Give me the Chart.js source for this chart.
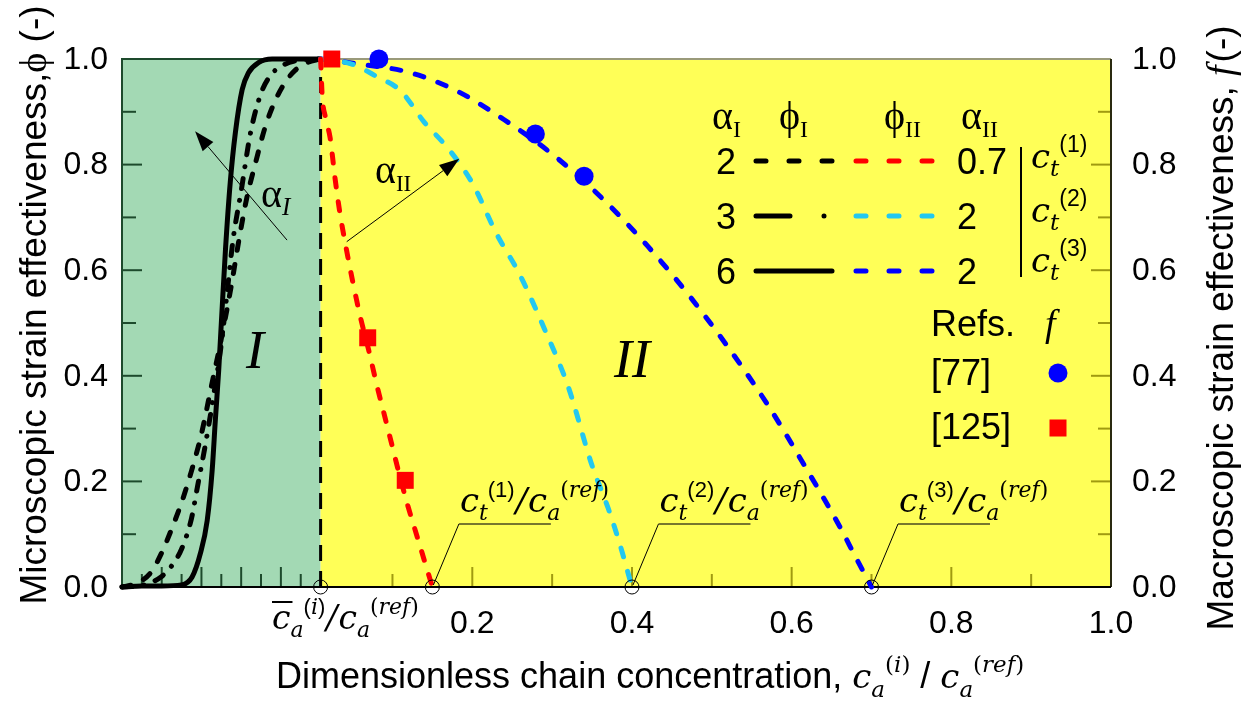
<!DOCTYPE html>
<html>
<head>
<meta charset="utf-8">
<title>Strain effectiveness vs. dimensionless chain concentration</title>
<script src="https://cdn.jsdelivr.net/npm/chart.js@4.4.1/dist/chart.umd.min.js"></script>
<style>
  html, body { margin: 0; padding: 0; background: #ffffff; }
  canvas { display: block; }
</style>
</head>
<body>
<canvas id="chart" width="1247" height="701"></canvas>
<script>
// Boundary between region I and region II: c̄a(i)/ca(ref)
const cBar = 0.01;
// Threshold concentrations ct(k)/ca(ref)
const ctValues = [0.15, 0.4, 0.7];

// Axis ticks
const xTickLabels = [0.2, 0.4, 0.6, 0.8, 1.0];
const xTickMarks = [0.1, 0.2, 0.3, 0.4, 0.5, 0.6, 0.7, 0.8, 0.9];
const uTickMarks = [0.1, 0.2, 0.3, 0.4, 0.5, 0.6, 0.7, 0.8, 0.9];   // region I, fraction of c̄a
const yTickLabels = [0.0, 0.2, 0.4, 0.6, 0.8, 1.0];
const yTickMarks = [0.1, 0.2, 0.3, 0.4, 0.5, 0.6, 0.7, 0.8, 0.9];

// Region I: microscopic effectiveness phi_I vs. ca/c̄a
const phiI_a2_u   = [0, 0.05, 0.10, 0.15, 0.20, 0.25, 0.30, 0.35, 0.40, 0.45, 0.50, 0.55, 0.59, 0.63, 0.67, 0.72, 0.77, 0.82, 0.87, 0.93, 1.00];
const phiI_a2_phi = [0, 0.004, 0.012, 0.03, 0.065, 0.11, 0.16, 0.22, 0.29, 0.38, 0.47, 0.57, 0.66, 0.74, 0.80, 0.87, 0.92, 0.955, 0.978, 0.993, 1.0];
const phiI_a3_u   = [0, 0.10, 0.20, 0.25, 0.30, 0.35, 0.38, 0.42, 0.46, 0.50, 0.53, 0.56, 0.60, 0.647, 0.70, 0.75, 0.82, 0.90, 1.00];
const phiI_a3_phi = [0, 0.003, 0.02, 0.04, 0.072, 0.13, 0.19, 0.27, 0.36, 0.46, 0.56, 0.66, 0.75, 0.86, 0.935, 0.97, 0.99, 0.998, 1.0];
const phiI_a6_u   = [0, 0.10, 0.20, 0.30, 0.353, 0.395, 0.429, 0.454, 0.470, 0.487, 0.501, 0.521, 0.545, 0.571, 0.605, 0.637, 0.687, 0.756, 0.85, 1.00];
const phiI_a6_phi = [0, 0.002, 0.002, 0.004, 0.019, 0.064, 0.126, 0.221, 0.316, 0.411, 0.506, 0.639, 0.766, 0.861, 0.942, 0.974, 0.993, 1.0, 1.0, 1.0];

// Region II: microscopic effectiveness phi_II vs. ca/ca(ref)
const phiII_ct1_x   = [0.01, 0.012, 0.016, 0.022, 0.028, 0.034, 0.041, 0.05, 0.06, 0.07, 0.08, 0.09, 0.10, 0.11, 0.12, 0.13, 0.14, 0.15];
const phiII_ct1_phi = [1.0, 0.93, 0.89, 0.85, 0.775, 0.71, 0.65, 0.58, 0.51, 0.45, 0.385, 0.325, 0.265, 0.205, 0.15, 0.10, 0.05, 0.0];
const phiII_ct2_x   = [0.01, 0.05, 0.08, 0.11, 0.14, 0.17, 0.20, 0.23, 0.26, 0.29, 0.32, 0.35, 0.37, 0.385, 0.40];
const phiII_ct2_phi = [1.0, 0.99, 0.967, 0.94, 0.88, 0.83, 0.765, 0.67, 0.59, 0.49, 0.38, 0.23, 0.15, 0.08, 0.0];
const phiII_ct3_x   = [0.01, 0.06, 0.12, 0.18, 0.24, 0.30, 0.36, 0.42, 0.47, 0.52, 0.57, 0.62, 0.66, 0.68, 0.70];
const phiII_ct3_phi = [1.0, 0.99, 0.975, 0.94, 0.885, 0.82, 0.74, 0.645, 0.555, 0.455, 0.345, 0.22, 0.115, 0.057, 0.0];

// Macroscopic effectiveness f from the literature
const ref77_x  = [0.083, 0.279, 0.340];
const ref77_f  = [1.0, 0.858, 0.778];
const ref125_x = [0.024, 0.069, 0.116];
const ref125_f = [1.0, 0.472, 0.202];

// ---------------------------------------------------------------------------
const pts = (xs, ys) => xs.map((x, i) => ({ x, y: ys[i] }));

const GREEN = '#a3d9b4';
const YELLOW = '#ffff57';
const CYAN = '#22c8f0';
const TICK_GREEN = '#1d4a2c';
const TICK_OLIVE = '#a09a10';

const SANS = '"Liberation Sans", Arial, sans-serif';
const sans = s => `${s}px ${SANS}`;
const MI = s => `italic ${s}px "DejaVu Serif", serif`;
const MR = s => `${s}px "DejaVu Serif", serif`;
const TI = s => `italic ${s}px "Liberation Serif", "Times New Roman", serif`;
const TR = s => `${s}px "Liberation Serif", "Times New Roman", serif`;

// Frame: region-II scale spans from xMin at the left edge to 1.0 at the right edge
const frameLeft = 122, frameRight = 1111, frameTop = 59, frameBottom = 587;
const tick02px = 472.3;
const xMin = 0.2 - (tick02px - frameLeft) / ((frameRight - tick02px) / 0.8);
// Region-I scale (ca/c̄a) shares the frame, with 1 at the boundary
const uMax = (1 - xMin) / (cBar - xMin);

function drawRich(ctx, x, y, parts, align) {
  let w = 0;
  for (const p of parts) { ctx.font = p.f; w += ctx.measureText(p.t).width + (p.dx || 0); }
  let cx = align === 'center' ? x - w / 2 : align === 'right' ? x - w : x;
  ctx.textAlign = 'left';
  ctx.textBaseline = 'alphabetic';
  for (const p of parts) {
    ctx.font = p.f;
    const tw = ctx.measureText(p.t).width;
    ctx.fillText(p.t, cx, y + (p.dy || 0));
    if (p.over) {
      ctx.save();
      ctx.lineWidth = 2;
      ctx.beginPath();
      ctx.moveTo(cx, y + p.over);
      ctx.lineTo(cx + tw + 2, y + p.over);
      ctx.stroke();
      ctx.restore();
    }
    cx += tw + (p.dx || 0);
  }
}

function ratioLabel(num, numSub, numSup, size, sub) {
  const parts = [
    { t: 'c', f: MI(size) },
    { t: numSub, f: MI(sub), dy: 8 },
    { t: '(', f: sans(sub), dy: -15 },
    { t: numSup, f: numSup === 'i' ? MI(sub) : sans(sub), dy: -15 },
    { t: ')', f: sans(sub), dy: -15, dx: 1 },
    { t: '/', f: MI(size), dx: 1 },
    { t: 'c', f: MI(size) },
    { t: 'a', f: MI(sub), dy: 8 },
    { t: '(', f: MR(sub), dy: -15 },
    { t: 'ref', f: MI(sub), dy: -15 },
    { t: ')', f: MR(sub), dy: -15 }
  ];
  if (num) parts[0].over = -27;
  return parts;
}

function arrow(ctx, x0, y0, x1, y1) {
  const len = 20, half = 7;
  const a = Math.atan2(y1 - y0, x1 - x0);
  const bx = x1 - len * Math.cos(a), by = y1 - len * Math.sin(a);
  ctx.beginPath(); ctx.moveTo(x0, y0); ctx.lineTo(bx, by); ctx.stroke();
  ctx.beginPath();
  ctx.moveTo(x1, y1);
  ctx.lineTo(bx + half * Math.sin(a), by - half * Math.cos(a));
  ctx.lineTo(bx - half * Math.sin(a), by + half * Math.cos(a));
  ctx.closePath(); ctx.fill();
}

function legendLine(ctx, x0, x1, y, color, dash) {
  ctx.save();
  ctx.strokeStyle = color;
  ctx.lineWidth = 5;
  ctx.lineCap = 'round';
  ctx.setLineDash(dash);
  ctx.beginPath(); ctx.moveTo(x0, y); ctx.lineTo(x1, y); ctx.stroke();
  ctx.restore();
}

const decorations = {
  id: 'decorations',
  beforeDatasetsDraw(chart) {
    const { ctx, chartArea: a, scales } = chart;
    const X = v => scales.x.getPixelForValue(v);
    const U = v => scales.xI.getPixelForValue(v);
    const Y = v => scales.y.getPixelForValue(v);
    const xb = X(cBar);
    ctx.save();
    // regions
    ctx.fillStyle = GREEN; ctx.fillRect(a.left, a.top, xb - a.left, a.bottom - a.top);
    ctx.fillStyle = YELLOW; ctx.fillRect(xb, a.top, a.right - xb, a.bottom - a.top);

    // inward tick marks
    ctx.lineWidth = 2;
    const major = v => Math.round(v * 10) % 2 === 0;
    ctx.strokeStyle = TICK_GREEN;
    for (const v of yTickMarks) {
      const l = major(v) ? 20 : 14, y = Y(v);
      ctx.beginPath(); ctx.moveTo(a.left, y); ctx.lineTo(a.left + l, y); ctx.stroke();
    }
    for (const v of uTickMarks) {
      const l = major(v) ? 20 : 13, x = U(v);
      ctx.beginPath(); ctx.moveTo(x, a.bottom); ctx.lineTo(x, a.bottom - l); ctx.stroke();
    }
    ctx.strokeStyle = TICK_OLIVE;
    for (const v of xTickMarks) {
      const l = major(v) ? 20 : 13, x = X(v);
      ctx.beginPath(); ctx.moveTo(x, a.bottom); ctx.lineTo(x, a.bottom - l); ctx.stroke();
    }
    for (const v of yTickMarks) {
      const l = major(v) ? 20 : 13, y = Y(v);
      ctx.beginPath(); ctx.moveTo(a.right, y); ctx.lineTo(a.right - l, y); ctx.stroke();
    }

    // frame
    ctx.lineWidth = 2;
    ctx.strokeStyle = TICK_GREEN;
    ctx.beginPath(); ctx.moveTo(a.left, a.bottom); ctx.lineTo(a.left, a.top); ctx.lineTo(xb, a.top); ctx.stroke();
    ctx.strokeStyle = '#9a9a7a';
    ctx.beginPath(); ctx.moveTo(xb, a.top); ctx.lineTo(a.right, a.top); ctx.stroke();
    ctx.strokeStyle = '#2a2a10';
    ctx.beginPath(); ctx.moveTo(a.right, a.top); ctx.lineTo(a.right, a.bottom); ctx.stroke();
    ctx.strokeStyle = '#000';
    ctx.beginPath(); ctx.moveTo(a.left, a.bottom); ctx.lineTo(a.right, a.bottom); ctx.stroke();
    ctx.restore();
  },
  afterDatasetsDraw(chart) {
    const { ctx, chartArea: a, scales } = chart;
    const X = v => scales.x.getPixelForValue(v);
    const U = v => scales.xI.getPixelForValue(v);
    const Y = v => scales.y.getPixelForValue(v);
    ctx.save();
    ctx.fillStyle = '#000';
    ctx.strokeStyle = '#000';

    // tick labels
    ctx.font = sans(32);
    ctx.textBaseline = 'middle';
    ctx.textAlign = 'right';
    for (const v of yTickLabels) ctx.fillText(v.toFixed(1), 108, Y(v) + 1);
    ctx.textAlign = 'left';
    for (const v of yTickLabels) ctx.fillText(v.toFixed(1), 1132, Y(v) + 1);
    ctx.textAlign = 'center';
    ctx.textBaseline = 'alphabetic';
    for (const v of xTickLabels) ctx.fillText(v.toFixed(1), X(v), 633);
    drawRich(ctx, 272, 629, ratioLabel(true, 'a', 'i', 33, 22));

    // axis titles
    drawRich(ctx, 276, 688, [
      { t: 'Dimensionless chain concentration, ', f: sans(36) },
      { t: 'c', f: MI(34) },
      { t: 'a', f: MI(23), dy: 9 },
      { t: '(', f: MR(23), dy: -16 },
      { t: 'i', f: MI(23), dy: -16 },
      { t: ')', f: MR(23), dy: -16 },
      { t: ' / ', f: sans(36) },
      { t: 'c', f: MI(34) },
      { t: 'a', f: MI(23), dy: 9 },
      { t: '(', f: MR(23), dy: -16 },
      { t: 'ref', f: MI(23), dy: -16 },
      { t: ')', f: MR(23), dy: -16 }
    ]);
    ctx.save();
    ctx.translate(46, 305);
    ctx.rotate(-Math.PI / 2);
    drawRich(ctx, 0, 0, [
      { t: 'Microscopic strain effectiveness,', f: sans(37) },
      { t: '\u03D5', f: TR(38) },
      { t: ' (-)', f: sans(37) }
    ], 'center');
    ctx.restore();
    ctx.save();
    ctx.translate(1233, 328);
    ctx.rotate(-Math.PI / 2);
    drawRich(ctx, 0, 0, [
      { t: 'Macroscopic strain effectiveness, ', f: sans(37) },
      { t: 'f', f: TI(38), dx: 3 },
      { t: '(-)', f: sans(37) }
    ], 'center');
    ctx.restore();

    // region names
    ctx.font = TI(54);
    ctx.textAlign = 'center';
    ctx.fillText('I', U(0.67), 368);
    ctx.fillText('II', X(0.4), 377);

    // effect-of-alpha arrows
    ctx.lineWidth = 1;
    arrow(ctx, U(0.831), Y(0.657), U(0.368), Y(0.863));
    drawRich(ctx, 261, 207, [{ t: '\u03B1', f: TR(40) }, { t: 'I', f: TI(25), dy: 8 }]);
    arrow(ctx, X(0.0427), Y(0.654), X(0.1837), Y(0.811));
    drawRich(ctx, 375, 183, [{ t: '\u03B1', f: TR(40) }, { t: 'II', f: TR(23), dy: 8 }]);

    // callouts at the threshold concentrations
    ctValues.forEach((ct, k) => {
      const cx = X(ct), cy = Y(0);
      const ex = cx + 26.5, ey = cy - 63;
      ctx.lineWidth = 1;
      ctx.strokeStyle = '#000';
      ctx.beginPath(); ctx.moveTo(cx + 1, cy - 2); ctx.lineTo(ex, ey); ctx.stroke();
      ctx.strokeStyle = '#4a4a20';
      ctx.lineWidth = 1.5;
      ctx.beginPath(); ctx.moveTo(ex, ey); ctx.lineTo(ex + 92, ey); ctx.stroke();
      drawRich(ctx, ex + 1, ey - 12, ratioLabel(false, 't', String(k + 1), 34, 22));
    });

    // legend block
    drawRich(ctx, 712, 129, [{ t: '\u03B1', f: TR(40) }, { t: 'I', f: TR(24), dy: 8 }]);
    drawRich(ctx, 779, 129, [{ t: '\u03D5', f: TR(40) }, { t: 'I', f: TR(24), dy: 8 }]);
    drawRich(ctx, 884, 129, [{ t: '\u03D5', f: TR(40) }, { t: 'II', f: TR(24), dy: 8 }]);
    drawRich(ctx, 961, 129, [{ t: '\u03B1', f: TR(40) }, { t: 'II', f: TR(24), dy: 8 }]);
    const rows = [
      { a1: '2', a2: '0.7', y: 161, black: [10, 23], color: 'red' },
      { a1: '3', a2: '2', y: 216, black: [34, 34, 0.01, 100], color: CYAN },
      { a1: '6', a2: '2', y: 271, black: [], color: 'blue' }
    ];
    ctx.textAlign = 'left';
    ctx.textBaseline = 'alphabetic';
    for (const r of rows) {
      ctx.fillStyle = '#000';
      ctx.font = sans(36);
      ctx.fillText(r.a1, 716, r.y + 13);
      ctx.fillText(r.a2, 957, r.y + 13);
      legendLine(ctx, 756, 832, r.y, '#000', r.black);
      legendLine(ctx, 856, 932, r.y, r.color, [10, 23]);
    }
    ctx.lineWidth = 2;
    ctx.strokeStyle = '#000';
    ctx.beginPath(); ctx.moveTo(1021, 147); ctx.lineTo(1021, 277); ctx.stroke();
    [168, 222, 272].forEach((y, k) => {
      drawRich(ctx, 1031, y, [
        { t: 'c', f: MI(34) },
        { t: 't', f: MI(23), dy: 8 },
        { t: '(' + (k + 1) + ')', f: sans(23), dy: -16 }
      ]);
    });
    ctx.fillStyle = '#000';
    ctx.font = sans(36);
    ctx.fillText('Refs.', 931, 336);
    ctx.fillText('[77]', 931, 385);
    ctx.fillText('[125]', 931, 439);
    ctx.font = TI(38);
    ctx.fillText('f', 1045, 336);
    ctx.fillStyle = 'blue';
    ctx.beginPath(); ctx.arc(1058, 373, 9.5, 0, Math.PI * 2); ctx.fill();
    ctx.fillStyle = 'red';
    ctx.fillRect(1049.5, 419.5, 17, 17);
    ctx.restore();
  }
};

const curve = (id, xs, ys, color, dash, width, order) => ({
  data: pts(xs, ys),
  xAxisID: id,
  yAxisID: 'y',
  borderColor: color,
  borderWidth: width,
  borderDash: dash,
  borderCapStyle: dash.length ? 'round' : 'butt',
  pointRadius: 0,
  fill: false,
  cubicInterpolationMode: 'monotone',
  clip: false,
  order
});

new Chart(document.getElementById('chart'), {
  type: 'line',
  data: {
    datasets: [
      {
        label: '[77]', data: pts(ref77_x, ref77_f), xAxisID: 'x', yAxisID: 'y2',
        showLine: false, pointStyle: 'circle', pointRadius: 9.5,
        pointBackgroundColor: 'blue', pointBorderWidth: 0, clip: false, order: 0
      },
      {
        label: '[125]', data: pts(ref125_x, ref125_f), xAxisID: 'x', yAxisID: 'y2',
        showLine: false, pointStyle: 'rect', pointRadius: 12,
        pointBackgroundColor: 'red', pointBorderWidth: 0, clip: false, order: 0
      },
      {
        label: 'thresholds', data: [cBar, ...ctValues].map(v => ({ x: v, y: 0 })), xAxisID: 'x', yAxisID: 'y',
        showLine: false, pointStyle: 'circle', pointRadius: 7,
        pointBackgroundColor: 'rgba(0,0,0,0)', pointBorderColor: '#000', pointBorderWidth: 1,
        clip: false, order: 1
      },
      curve('x', phiII_ct1_x, phiII_ct1_phi, 'red', [9, 15], 5, 2),
      curve('x', phiII_ct2_x, phiII_ct2_phi, CYAN, [9, 15], 5, 2),
      curve('x', phiII_ct3_x, phiII_ct3_phi, 'blue', [9, 15], 5, 2),
      curve('xI', phiI_a6_u, phiI_a6_phi, '#000', [], 5, 3),
      curve('xI', phiI_a3_u, phiI_a3_phi, '#000', [10, 12, 0.01, 12], 5, 3),
      curve('xI', phiI_a2_u, phiI_a2_phi, '#000', [9, 14], 5, 3),
      {
        label: 'boundary', data: [{ x: cBar, y: 0 }, { x: cBar, y: 1 }], xAxisID: 'x', yAxisID: 'y',
        borderColor: '#000', borderWidth: 3, borderDash: [16, 10], pointRadius: 0, clip: false, order: 4
      }
    ]
  },
  options: {
    responsive: false,
    devicePixelRatio: 1,
    animation: false,
    parsing: false,
    layout: { padding: { left: frameLeft, right: 1247 - frameRight, top: frameTop, bottom: 701 - frameBottom } },
    plugins: { legend: { display: false }, tooltip: { enabled: false } },
    scales: {
      x: { type: 'linear', min: xMin, max: 1.0, display: false },
      xI: { type: 'linear', min: 0, max: uMax, display: false },
      y: { type: 'linear', min: 0, max: 1.0, display: false },
      y2: { type: 'linear', position: 'right', min: 0, max: 1.0, display: false }
    }
  },
  plugins: [decorations]
});
</script>
</body>
</html>
